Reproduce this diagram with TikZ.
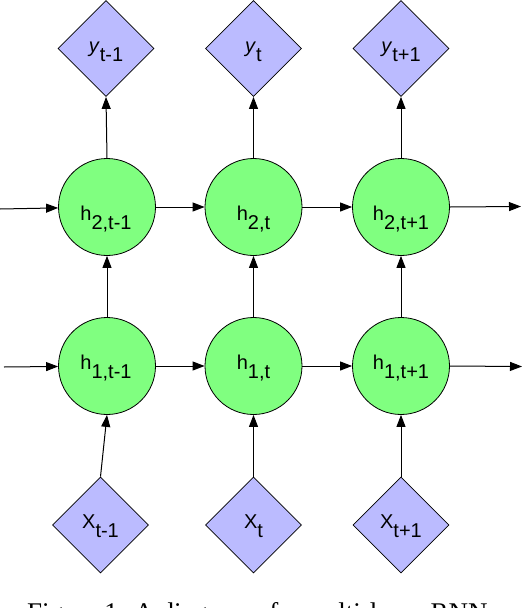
\documentclass[tikz,border=0pt]{standalone}
\usepackage{fontspec}
\setmainfont{Liberation Sans}
\newfontfamily\capfont{Liberation Serif}
\usetikzlibrary{shapes.geometric,arrows.meta}
\definecolor{dfill}{HTML}{BBBBFF}
\definecolor{cfill}{HTML}{80FF80}
\newcommand\lsub[1]{\raisebox{-9pt}{#1}}
\tikzset{
  dia/.style={diamond, draw=black, fill=dfill, line width=0.8pt, aspect=1,
    minimum width=96pt, minimum height=96pt, inner sep=0pt},
  cell/.style={circle, draw=black, fill=cfill, line width=0.8pt,
    minimum size=97pt, inner sep=0pt},
  lab/.style={anchor=base, inner sep=0pt, font=\fontsize{20}{24}\selectfont},
  arr/.style={draw=black, line width=1pt, -{Triangle[length=12pt,width=9pt]}}
}
\begin{document}
\begin{tikzpicture}[x=1pt,y=-1pt]
\useasboundingbox (0,0) rectangle (528,608);
% output diamonds
\node[dia] (ya) at (106,48.5) {};
\node[dia] (yb) at (253.5,48.5) {};
\node[dia] (yc) at (401,48.5) {};
% layer 2
\node[cell] (ha2) at (107,207) {};
\node[cell] (hb2) at (253.5,207) {};
\node[cell] (hc2) at (401,207) {};
% layer 1
\node[cell] (ha1) at (107,366) {};
\node[cell] (hb1) at (253.5,366) {};
\node[cell] (hc1) at (401,366) {};
% input diamonds
\node[dia] (xa) at (100.5,525) {};
\node[dia] (xb) at (253.5,525) {};
\node[dia] (xc) at (401,525) {};
% labels
\node[lab] (lya) at (106,52) {\textit{y}\lsub{t-1}};
\node[lab] (lyb) at (253.5,52) {\textit{y}\lsub{t}};
\node[lab] (lyc) at (401,52) {\textit{y}\lsub{t+1}};
\node[lab] (lha2) at (106,220) {h\lsub{2,t-1}};
\node[lab] (lhb2) at (253.5,220) {h\lsub{2,t}};
\node[lab] (lhc2) at (401,220) {h\lsub{2,t+1}};
\node[lab] (lha1) at (106,369) {h\lsub{1,t-1}};
\node[lab] (lhb1) at (253.5,369) {h\lsub{1,t}};
\node[lab] (lhc1) at (401,369) {h\lsub{1,t+1}};
\node[lab] (lxa) at (100.5,528) {X\lsub{t-1}};
\node[lab] (lxb) at (253.5,528) {X\lsub{t}};
\node[lab] (lxc) at (401,528) {X\lsub{t+1}};
% free ends
\coordinate (in2) at (0,209);
\coordinate (in1) at (4,367);
\coordinate (out2) at (521,206.5);
\coordinate (out1) at (522,366.5);
% vertical connectors
\draw[arr] (ha2.north) -- (ya.south);
\draw[arr] (hb2.north) -- (yb.south);
\draw[arr] (hc2.north) -- (yc.south);
\draw[arr] (ha1.north) -- (ha2.south);
\draw[arr] (hb1.north) -- (hb2.south);
\draw[arr] (hc1.north) -- (hc2.south);
\draw[arr] (xa.north) -- (ha1.south);
\draw[arr] (xb.north) -- (hb1.south);
\draw[arr] (xc.north) -- (hc1.south);
% horizontal connectors
\draw[arr] (in2) -- (ha2);
\draw[arr] (ha2) -- (hb2);
\draw[arr] (hb2) -- (hc2);
\draw[arr] (hc2.east) -- (out2);
\draw[arr] (in1) -- (ha1);
\draw[arr] (ha1) -- (hb1);
\draw[arr] (hb1) -- (hc1);
\draw[arr] (hc1.east) -- (out1);
% caption (cut by the page edge)
\node[anchor=base west, inner sep=0pt, font=\capfont\fontsize{27}{32}\selectfont] (cap) at (27,621.5) {Figure 1: A diagram of a multi-layer RNN};
\end{tikzpicture}
\end{document}
